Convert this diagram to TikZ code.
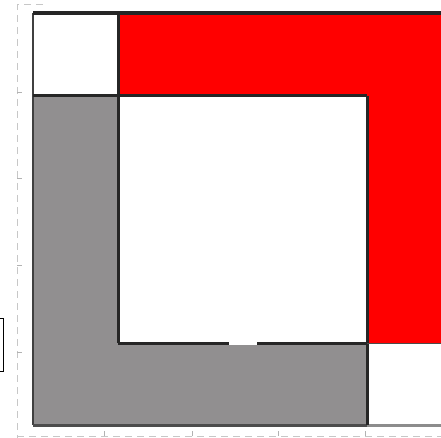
\documentclass[tikz,border=0pt]{standalone}
\begin{document}
\begin{tikzpicture}[x=1pt,y=-1pt,
  darkline/.style={draw=black!85,line width=3pt},
  axisline/.style={draw=black!22,line width=1pt,dash pattern=on 7pt off 5pt},
  tickline/.style={draw=black!30,line width=0.8pt}]
\definecolor{grayfill}{RGB}{145,143,144}
\useasboundingbox (0,0) rectangle (441,438);
\fill[white] (0,0) rectangle (441,438);
% axes
\draw[axisline] (43,5) -- (17,5) -- (17,438);
\draw[axisline] (17,436) -- (441,436);
\foreach \y in {92,178,265,352} \draw[tickline] (17,\y) -- (22,\y);
\foreach \x in {104,192,278,365} \draw[tickline] (\x,436) -- (\x,431);
% fills
\fill[grayfill] (33,96) rectangle (367,425);
\fill[red] (118,13) rectangle (441,343);
\fill[white] (118,96) rectangle (367,343);
% lines
\draw[darkline,line width=2pt,draw=black!75] (33,13) -- (33,425);
\draw[darkline,line width=3pt,draw=black!70] (33,425) -- (367,425);
\draw[line width=3pt,draw=black!45] (367,425) -- (441,425);
\draw[darkline,line width=4pt] (33,13) -- (441,13);
\draw[darkline] (118,13) -- (118,343);
\draw[darkline] (33,96) -- (367,96);
\draw[darkline] (367,96) -- (367,425);
\draw[darkline] (118,343) -- (367,343);
\draw[draw=black!70,line width=1pt] (367,343) -- (441,343);
\fill[white] (229,339) rectangle (257,345);
% partial box at left
\draw[black,line width=1pt] (-5,318) rectangle (3,371);
\end{tikzpicture}
\end{document}
